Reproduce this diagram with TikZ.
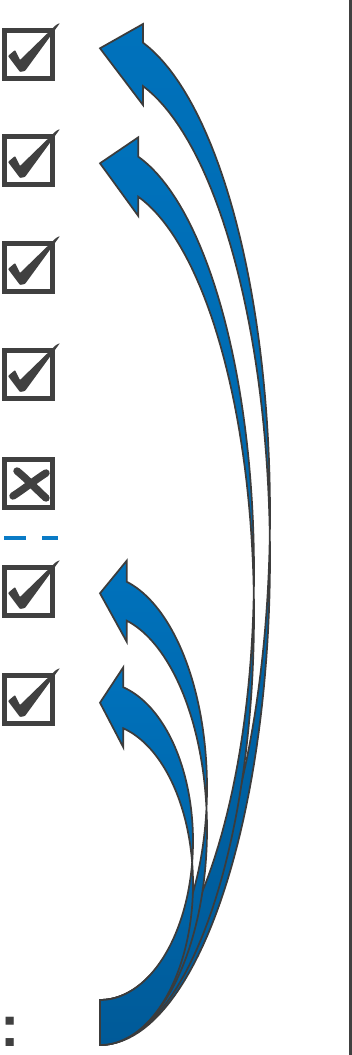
\documentclass[tikz,border=0pt]{standalone}
\usepackage{fontspec}
\setmainfont{Liberation Sans}
\usepackage{xcolor}
\usepackage{tikz}
\definecolor{CLBlue}{HTML}{0072BC}
\definecolor{CLDeep}{HTML}{005A98}
\definecolor{CLEdge}{HTML}{3C3C3C}
\definecolor{CLGray}{HTML}{404040}
\definecolor{CLDash}{HTML}{0A7BC6}

\begin{document}
\begin{tikzpicture}[x=0.75pt,y=-0.75pt,
  curvearrow/.style={draw=CLEdge,line width=1.3pt,top color=CLBlue,middle color=CLBlue,bottom color=CLDeep,samples=90},
  boxframe/.style={draw=CLGray,line width=3.4pt},
  tickmark/.style={fill=CLGray,rounded corners=0.6pt},
  crossmark/.style={draw=CLGray,line width=5.6pt,line cap=round},
  dashmark/.style={draw=CLDash,line width=3.4pt,dash pattern=on 16.5pt off 12pt},
  tickbox/.pic={
    \draw[boxframe] (2.25,2.25) rectangle (50.75,50.75);
    \fill[tickmark] (6,28) -- (13,22) -- (18,32) -- (54,-3) -- (58,-5) -- (23,43) -- (18,44) -- cycle;
  },
  crossbox/.pic={
    \draw[boxframe] (2.25,2.25) rectangle (50.75,50.75);
    \draw[crossmark] (15,14) .. controls (25,22) and (35,33) .. (44,41);
    \draw[crossmark] (44,16) .. controls (33,23) and (22,32) .. (11,39);
  }]
\path[use as bounding box] (0,0) rectangle (352,1055);
\fill[CLGray] (348.5,0) rectangle (352,1055);
\pic at (2,28) {tickbox};
\pic at (2,134) {tickbox};
\pic at (2,241) {tickbox};
\pic at (2,348) {tickbox};
\pic at (2,457) {crossbox};
\draw[dashmark] (4,538) -- (58,538);
\pic at (2,565) {tickbox};
\pic at (2,673) {tickbox};
\draw[curvearrow] plot[domain=90:-75.35] ({100+170*cos(\x)},{513.4+486.6*sin(\x)}) -- (143,24) -- (100,48.3) -- (143,105) -- plot[domain=-75.35:90] ({100+170*cos(\x)},{557.6+487.4*sin(\x)}) -- cycle;
\draw[curvearrow] plot[domain=90:-75.6] ({100+154*cos(\x)},{571.6+428.4*sin(\x)}) -- (138.3,137.3) -- (100,163.3) -- (138.3,216) -- plot[domain=-75.6:90] ({100+154*cos(\x)},{614.1+430.9*sin(\x)}) -- cycle;
\draw[curvearrow] plot[domain=90:-75.55] ({100+107*cos(\x)},{787.5+212.5*sin(\x)}) -- (126.7,560.7) -- (100,593.3) -- (126.7,641.7) -- plot[domain=-75.55:90] ({100+107*cos(\x)},{829.4+215.6*sin(\x)}) -- cycle;
\draw[curvearrow] plot[domain=90:-75.49] ({100+93*cos(\x)},{841.1+158.9*sin(\x)}) -- (123.3,667.3) -- (100,702.7) -- (123.3,747.3) -- plot[domain=-75.49:90] ({100+93*cos(\x)},{884.1+160.9*sin(\x)}) -- cycle;
\node[anchor=base west,inner sep=0pt,text=CLGray,font=\fontsize{43.5}{50}\selectfont\bfseries] (colon) at (0,1046.5) {:};
\end{tikzpicture}
\end{document}
